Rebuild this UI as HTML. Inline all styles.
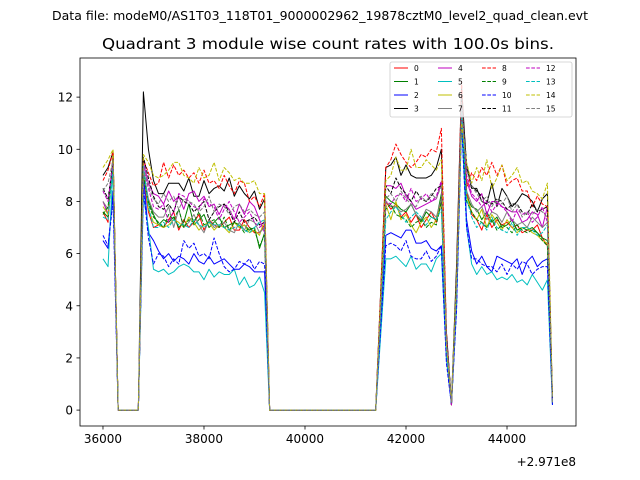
<!DOCTYPE html>
<html><head><meta charset="utf-8"><style>
html,body{margin:0;padding:0;background:#fff;}
svg{display:block;font-family:"DejaVu Sans","Liberation Sans",sans-serif;}
</style></head><body>
<svg id="chart" width="640" height="480" viewBox="0 0 640 480" xmlns="http://www.w3.org/2000/svg">
<rect width="640" height="480" fill="#fff"/>
<text x="320" y="20" font-size="12" text-anchor="middle" textLength="536" lengthAdjust="spacingAndGlyphs">Data file: modeM0/AS1T03_118T01_9000002962_19878cztM0_level2_quad_clean.evt</text>
<text x="328" y="49" font-size="15" text-anchor="middle" textLength="452" lengthAdjust="spacingAndGlyphs">Quadrant 3 module wise count rates with 100.0s bins.</text>
<g id="plot"></g>
<g id="axes"></g>
<g id="legend"></g>
</svg>
<script>
const binStart = 36000;
const binSize = 100;
const xTicks = [36000, 38000, 40000, 42000, 44000];
const xTickLabels = ["36000", "38000", "40000", "42000", "44000"];
const yTicks = [0, 2, 4, 6, 8, 10, 12];
const yTickLabels = ["0", "2", "4", "6", "8", "10", "12"];
const offsetLabel = "+2.971e8";
const Z5 = [0,0,0,0,0];
const Z22 = [0,0,0,0,0,0,0,0,0,0,0,0,0,0,0,0,0,0,0,0,0,0];
const m0 = [7.6,7.2,9.8, ...Z5, 9.0,7.6,7.0,7.1,7.0,7.3,7.6,6.9,7.3,7.0,7.2,7.5,6.9,7.3,7.1,7.0,7.2,7.4,6.9,6.9,7.3,7.0,6.8,6.8,7.1, ...Z22, 4.0, 8.0,7.7,7.9,7.4,7.6,7.2,7.5,7.0,7.3,7.6,7.2,8.0, 2.6,0.2,4.7,12.0, 8.4,7.5,7.3,6.9,7.5,7.0,7.3,7.1,7.2,7.0,7.1,6.8,6.9,6.9,7.1,6.6,6.3, 0.3];
const m1 = [7.6,7.4,9.8, ...Z5, 9.3,8.0,7.5,7.1,7.3,7.2,7.4,7.0,7.2,7.9,7.1,7.3,7.5,7.0,7.2,7.4,7.0,7.1,7.2,7.0,7.1,6.9,7.0,6.2,6.8, ...Z22, 4.1, 8.2,8.0,7.9,7.7,7.6,7.9,7.5,7.2,7.6,7.4,7.3,8.3, 2.6,0.2,4.6,12.0, 8.2,7.8,7.7,7.3,7.6,7.2,7.4,7.0,7.1,7.3,6.9,7.0,6.9,7.0,6.8,6.6,6.5, 0.3];
const m2 = [6.5,6.2,8.4, ...Z5, 9.0,6.8,6.5,6.1,5.8,6.0,5.7,5.9,5.8,5.6,6.0,5.7,5.6,5.9,5.6,5.7,5.8,5.6,5.4,5.4,5.6,5.5,5.3,5.3,5.3, ...Z22, 3.4, 6.7,6.8,6.7,6.6,6.9,6.9,6.4,6.4,6.5,6.2,6.1,6.3, 2.0,0.2,4.0,11.3, 7.3,6.1,5.6,5.9,5.5,5.3,5.9,5.8,5.7,5.6,5.8,5.2,5.7,5.9,5.5,5.7,5.8, 0.2];
const m3 = [9.0,9.3,9.9, ...Z5, 12.2,10.0,8.8,8.3,8.3,8.7,8.7,8.7,8.4,8.9,8.2,8.2,8.8,8.3,8.5,8.6,8.4,8.9,8.2,8.6,8.3,8.1,8.4,7.7,8.1, ...Z22, 4.6, 9.3,9.4,9.7,9.0,9.4,9.0,8.9,8.9,8.9,9.0,9.3,10.0, 3.0,0.3,5.5,12.4, 9.3,8.5,8.5,8.0,7.9,8.7,7.8,8.5,8.2,7.8,8.0,8.3,8.2,8.0,7.6,8.1,8.3, 0.3];
const m4 = [8.0,7.5,9.6, ...Z5, 9.5,8.7,8.3,8.2,7.9,8.4,8.0,8.2,7.7,8.3,8.4,8.0,8.2,7.8,7.9,7.5,7.9,7.7,7.3,7.9,7.5,8.0,7.8,7.3,6.8, ...Z22, 4.3, 8.6,8.6,8.5,8.7,8.2,8.0,7.7,7.8,7.9,8.0,8.1,8.7, 2.8,0.3,4.5,11.3, 8.8,8.2,8.0,8.3,7.5,8.0,8.0,7.8,7.7,7.6,7.6,7.2,7.3,7.6,7.5,7.0,7.8, 0.3];
const m5 = [5.8,5.5,9.3, ...Z5, 8.2,7.0,5.4,5.3,5.4,5.2,5.3,5.5,5.6,5.5,5.3,5.3,5.0,5.4,5.1,5.3,5.2,5.2,5.4,4.8,5.1,4.7,4.8,5.1,4.5, ...Z22, 2.9, 5.8,5.8,5.9,5.7,5.5,5.9,5.4,5.6,5.6,5.3,5.8,6.0, 2.0,0.2,3.9,11.0, 7.0,5.6,5.2,5.5,5.2,5.3,5.0,5.1,5.0,5.2,4.9,5.0,4.8,5.2,4.9,4.6,5.0, 0.2];
const m6 = [7.8,7.5,9.7, ...Z5, 9.2,7.7,7.2,7.1,7.0,7.1,7.3,7.2,7.0,7.4,7.2,6.9,7.1,7.2,6.9,7.1,7.0,6.8,7.2,7.0,7.1,6.8,6.9,6.7,7.3, ...Z22, 3.9, 7.9,7.3,8.0,7.3,7.5,7.1,6.8,7.2,7.4,7.0,7.3,7.9, 2.5,0.2,4.3,11.8, 8.2,7.6,7.3,7.7,7.0,7.5,7.2,6.9,7.3,7.0,6.8,7.0,7.0,6.8,6.7,6.5,6.4, 0.3];
const m7 = [8.0,7.7,9.3, ...Z5, 9.2,8.1,7.6,7.4,7.4,7.8,7.0,7.7,7.0,7.2,7.5,7.1,6.8,7.3,7.0,7.1,7.2,6.9,6.8,7.2,6.9,7.3,7.2,6.8,7.0, ...Z22, 4.0, 8.0,7.8,7.8,7.6,7.7,7.9,7.5,7.3,7.7,7.6,7.4,8.1, 2.6,0.2,4.8,12.2, 8.4,7.9,7.6,7.8,7.3,7.6,7.5,7.2,7.6,7.3,7.1,7.2,7.0,7.4,7.2,7.0,7.2, 0.3];
const m8 = [8.8,9.2,9.9, ...Z5, 9.6,9.1,8.6,8.7,9.5,8.9,9.4,9.0,9.2,8.9,9.1,8.7,9.2,8.7,8.8,8.5,9.0,8.6,8.3,8.8,8.7,8.0,8.2,7.8,8.3, ...Z22, 4.6, 9.3,9.6,10.2,9.8,9.5,9.3,9.5,9.8,9.7,10.0,9.9,10.8, 3.0,0.2,5.0,12.6, 8.5,9.1,8.8,9.3,9.0,9.5,9.0,9.4,8.6,8.8,8.9,8.4,8.4,7.8,8.2,7.9,7.8, 0.4];
const m9 = [7.5,7.8,9.4, ...Z5, 9.0,7.9,7.4,7.2,7.0,7.5,7.3,7.7,7.0,7.3,7.2,7.6,7.1,7.2,7.3,7.0,7.4,6.9,7.2,7.1,6.8,7.0,6.9,6.3,6.7, ...Z22, 3.9, 7.7,7.9,7.5,7.4,7.3,7.0,7.2,7.3,7.0,7.2,7.1,8.0, 2.5,0.3,4.5,11.6, 8.0,7.6,7.3,7.2,7.0,7.3,6.9,7.1,7.0,6.8,7.1,6.9,6.8,6.9,6.8,6.5,6.3, 0.4];
const m10 = [6.7,6.3,8.0, ...Z5, 8.5,6.6,5.6,6.0,5.9,5.5,5.8,5.6,6.5,6.2,6.4,5.9,6.0,5.8,6.6,6.0,5.5,5.3,5.4,5.7,5.6,5.8,5.4,5.7,5.6, ...Z22, 3.2, 6.3,6.4,6.3,6.1,6.5,5.9,5.8,5.8,6.1,5.7,5.9,6.3, 1.8,0.2,3.8,11.0, 7.0,5.8,5.8,5.6,5.5,5.5,5.3,5.6,5.2,5.6,5.4,5.7,5.6,5.2,5.4,5.5,5.5, 0.2];
const m11 = [8.5,8.1,9.5, ...Z5, 9.7,8.9,8.2,7.8,7.7,7.9,7.6,8.2,8.0,7.9,7.6,7.8,8.0,7.3,7.6,7.8,7.9,7.6,7.2,7.6,7.2,7.3,7.4,7.1,7.2, ...Z22, 4.3, 8.6,8.3,8.9,8.5,8.3,8.0,8.4,8.1,8.0,8.2,8.5,8.6, 2.9,0.3,5.0,12.0, 9.4,8.6,8.4,8.2,8.0,7.9,8.1,8.0,7.7,7.9,7.9,7.6,7.5,7.9,7.6,7.7,7.8, 0.4];
const m12 = [8.4,8.0,9.5, ...Z5, 9.3,8.5,7.8,7.7,7.9,7.2,7.6,8.3,8.2,8.0,7.8,7.7,8.1,7.9,7.8,7.3,7.7,8.0,7.6,7.2,7.4,7.6,7.2,7.0,7.2, ...Z22, 4.0, 8.0,7.9,8.2,8.3,8.0,8.5,8.0,8.1,8.3,8.0,8.2,8.8, 2.7,0.2,4.5,11.6, 9.0,8.3,8.1,7.8,8.0,7.6,7.9,7.8,7.6,7.2,7.7,7.5,7.6,7.2,7.4,7.8,7.2, 0.4];
const m13 = [7.4,7.3,9.3, ...Z5, 9.4,7.8,7.0,7.0,7.2,7.0,7.3,7.1,7.1,7.0,7.3,7.1,7.0,7.2,7.1,7.1,7.0,6.9,7.0,7.1,6.9,6.8,7.0,7.2,7.3, ...Z22, 3.7, 7.3,7.6,7.8,7.5,7.2,7.4,7.6,7.4,7.1,7.4,7.3,7.7, 2.5,0.3,4.4,11.5, 8.1,7.4,7.0,7.2,6.9,7.4,7.0,6.9,6.8,7.2,6.7,7.0,7.0,6.9,6.7,6.8,7.1, 0.3];
const m14 = [9.3,9.6,10.0, ...Z5, 9.8,9.5,9.0,8.9,9.0,9.2,9.5,9.5,9.0,8.9,8.7,9.3,8.9,9.0,9.5,8.8,9.3,9.1,8.8,8.9,8.7,8.7,8.8,8.3,8.3, ...Z22, 4.4, 8.8,9.0,9.7,9.2,9.2,10.0,9.3,9.3,9.6,9.4,9.2,9.6, 2.5,0.3,5.0,11.0, 9.5,8.7,9.3,8.8,9.6,8.5,8.9,9.4,8.8,9.0,9.3,8.7,8.8,8.4,8.3,8.1,8.7, 0.5];
const m15 = [8.4,8.7,9.6, ...Z5, 9.3,8.6,8.1,7.9,8.3,8.0,8.2,7.7,8.1,8.0,7.9,7.6,7.8,8.2,7.6,7.9,7.8,7.5,7.8,7.9,7.6,7.7,7.5,7.4,7.6, ...Z22, 4.0, 8.1,8.3,8.0,8.4,8.1,7.9,7.8,8.2,8.0,8.3,8.1,8.6, 2.7,0.3,4.8,11.8, 9.2,8.6,8.3,8.0,8.2,7.8,8.1,7.9,8.2,7.6,7.9,7.4,7.6,7.5,7.7,7.6,7.4, 0.3];
const moduleSeries = [m0,m1,m2,m3,m4,m5,m6,m7,m8,m9,m10,m11,m12,m13,m14,m15];
const moduleLabels = ["0","1","2","3","4","5","6","7","8","9","10","11","12","13","14","15"];

const NS = "http://www.w3.org/2000/svg";
const L = 80, R = 576, T = 58, B = 426;
const xMin = 35545, xMax = 45366, yMin = -0.61, yMax = 13.5;
const colors = ["#ff0000","#008000","#0000ff","#000000","#bf00bf","#00bfbf","#bfbf00","#808080"];
function xs(v){ return L + (v - xMin) / (xMax - xMin) * (R - L); }
function ys(v){ return B - (v - yMin) / (yMax - yMin) * (B - T); }
function mk(tag, attrs, parent){ const e = document.createElementNS(NS, tag); for (const k in attrs) e.setAttribute(k, attrs[k]); parent.appendChild(e); return e; }

const plot = document.getElementById('plot');
moduleSeries.forEach((s, i) => {
  const pts = s.map((v, j) => xs(binStart + j * binSize).toFixed(2) + ',' + ys(v).toFixed(2)).join(' ');
  const a = { points: pts, fill: 'none', stroke: colors[i % 8], 'stroke-width': 1, 'stroke-linejoin': 'round' };
  if (i >= 8) a['stroke-dasharray'] = '3.7,1.6';
  const p = mk('polyline', a, plot);
  
  
});

const axes = document.getElementById('axes');
const frame = mk('rect', { x: L, y: T, width: R - L, height: B - T, fill: 'none', stroke: '#000', 'stroke-width': 0.8 }, axes);


xTicks.forEach((v, i) => {
  const x = xs(v);
  const t = mk('line', { x1: x, x2: x, y1: B, y2: B + 3.5, stroke: '#000', 'stroke-width': 0.8 }, axes);
  
  
  const lb = mk('text', { x: x, y: B + 17, 'font-size': 12, 'text-anchor': 'middle' }, axes);
  lb.textContent = xTickLabels[i];
  
  
});
yTicks.forEach((v, i) => {
  const y = ys(v);
  const t = mk('line', { x1: L - 3.5, x2: L, y1: y, y2: y, stroke: '#000', 'stroke-width': 0.8 }, axes);
  
  
  const lb = mk('text', { x: L - 7, y: y + 4.5, 'font-size': 12, 'text-anchor': 'end' }, axes);
  lb.textContent = yTickLabels[i];
  
  
});
const off = mk('text', { x: R, y: 466, 'font-size': 12, 'text-anchor': 'end' }, axes);
off.textContent = offsetLabel;



const legend = document.getElementById('legend');
const lbox = mk('rect', { x: 390, y: 62, width: 182, height: 55, rx: 2, fill: '#fff', 'fill-opacity': 0.8, stroke: '#ccc', 'stroke-width': 0.8 }, legend);


const colX = [394, 438, 482, 526];
const rowY = [68, 81.5, 95, 108.5];
moduleLabels.forEach((lab, i) => {
  const c = Math.floor(i / 4), r = i % 4;
  const x = colX[c], y = rowY[r];
  const a = { x1: x, x2: x + 14, y1: y, y2: y, stroke: colors[i % 8], 'stroke-width': 1 };
  if (i >= 8) a['stroke-dasharray'] = '3.7,1.6';
  const ln = mk('line', a, legend);
  
  
  const tx = mk('text', { x: x + 20, y: y + 2.8, 'font-size': 7.5 }, legend);
  tx.textContent = lab;
  
  
});
</script>
</body></html>
